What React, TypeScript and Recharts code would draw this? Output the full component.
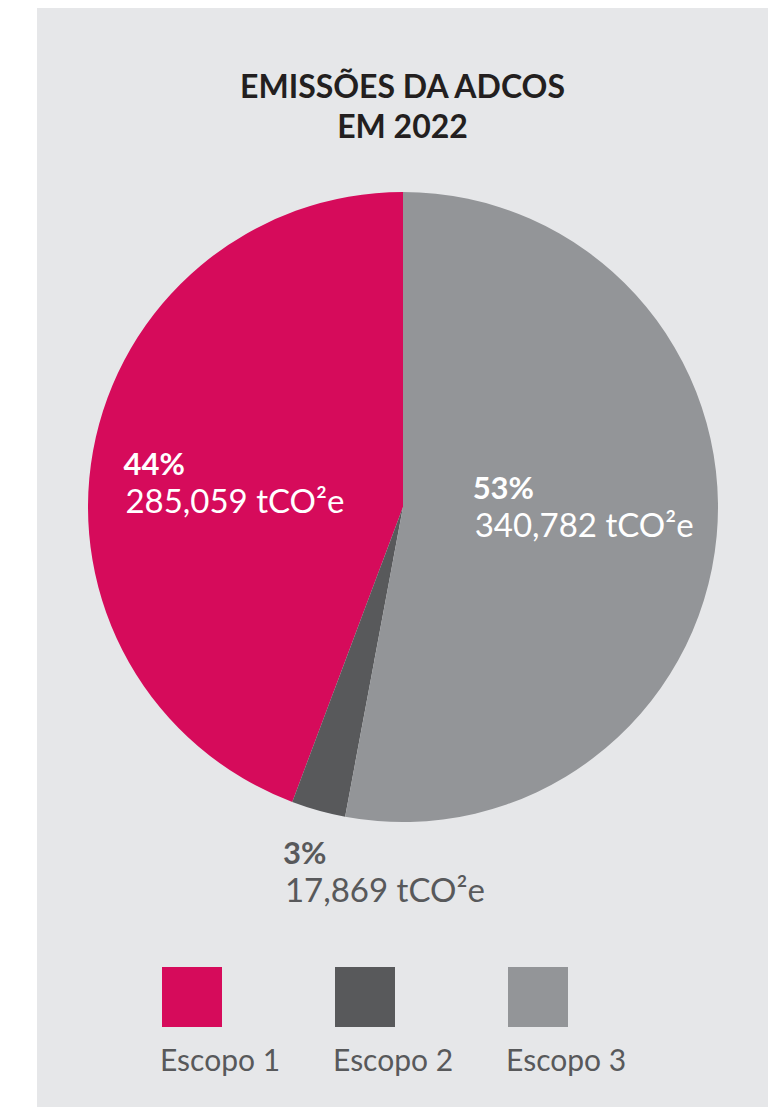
import { PieChart, Pie, Cell, Legend } from 'recharts'

const categories = ['Escopo 1', 'Escopo 2', 'Escopo 3']
const emissions = [285059, 17869, 340782]
const shareLabels = ['44%', '3%', '53%']
const emissionLabels = ['285,059 tCO²e', '17,869 tCO²e', '340,782 tCO²e']
const colors = ['#D60B5B', '#58595B', '#939598']

const chartData = categories.map((name, i) => ({
  name,
  value: emissions[i],
  share: shareLabels[i],
  amount: emissionLabels[i],
  fill: colors[i]
}))

const RADIAN = Math.PI / 180
const FONT = 'Lato, "Open Sans", sans-serif'

function SliceLabel(props: any) {
  const { cx, cy, midAngle, outerRadius, index, percent } = props
  const inside = percent > 0.05
  const r = inside ? outerRadius * 0.56 : outerRadius * 1.23
  const ry = inside ? r * 0.5 : r
  const x = cx + r * Math.cos(-midAngle * RADIAN)
  const y = cy + ry * Math.sin(-midAngle * RADIAN)
  const left = inside ? x - 106 : x - 16
  const fill = inside ? '#FFFFFF' : '#58595B'
  const item = chartData[index]
  return (
    <g>
      <text x={left} y={y - 16} fill={fill} fontFamily={FONT} fontSize={31} fontWeight={700}>
        {item.share}
      </text>
      <text x={left + 2} y={y + 22} fill={fill} fontFamily={FONT} fontSize={33} fontWeight={400}>
        {item.amount}
      </text>
    </g>
  )
}

function LegendBoxes({ payload }: any) {
  return (
    <div style={{ display: 'flex', fontFamily: FONT }}>
      {(payload || []).map((entry: any) => (
        <div key={entry.value} style={{ marginRight: 53 }}>
          <div style={{ width: 60, height: 60, background: entry.color, marginLeft: 2 }} />
          <div
            style={{
              marginTop: 14,
              fontSize: 30,
              color: '#58595B',
              lineHeight: '36px',
              whiteSpace: 'nowrap'
            }}
          >
            {entry.value}
          </div>
        </div>
      ))}
    </div>
  )
}

export default function App() {
  return (
    <div style={{ position: 'absolute', left: 0, top: 0, width: 781, height: 1107, background: '#FFFFFF' }}>
      <div
        style={{
          position: 'absolute',
          left: 37,
          top: 8,
          width: 731,
          height: 1099,
          background: '#E6E7E9'
        }}
      >
        <div
          style={{
            position: 'absolute',
            left: 0,
            top: 58,
            width: 731,
            textAlign: 'center',
            fontFamily: FONT,
            fontWeight: 700,
            fontSize: 32,
            lineHeight: '40px',
            color: '#231F20'
          }}
        >
          EMISSÕES DA ADCOS
          <br />
          EM 2022
        </div>
        <PieChart
          width={731}
          height={1099}
          margin={{ top: 0, right: 0, bottom: 0, left: 0 }}
          style={{ position: 'absolute', left: 0, top: 0 }}
        >
          <Pie
            data={chartData}
            dataKey="value"
            nameKey="name"
            cx={366}
            cy={499}
            outerRadius={315}
            startAngle={90}
            endAngle={450}
            stroke="none"
            labelLine={false}
            label={SliceLabel}
            isAnimationActive={false}
          >
            {chartData.map((d) => (
              <Cell key={d.name} fill={d.fill} />
            ))}
          </Pie>
          <Legend
            content={<LegendBoxes />}
            wrapperStyle={{ position: 'absolute', left: 123, top: 959, width: 'auto' }}
          />
        </PieChart>
      </div>
    </div>
  )
}
